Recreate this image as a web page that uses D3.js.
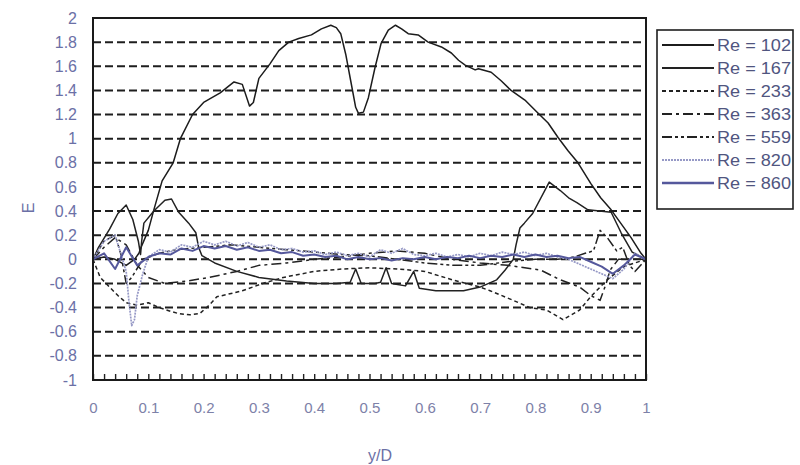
<!DOCTYPE html>
<html>
<head>
<meta charset="utf-8">
<script src="https://cdn.jsdelivr.net/npm/d3@7"></script>
<style>
  body { margin: 0; background: #fff; }
  svg { display: block; }
  text { font-family: "Liberation Sans", Arial, sans-serif; }
</style>
</head>
<body>
<svg id="chart" width="800" height="465"></svg>
<script>
// ---- tick values and labels ----
const xTicks = [0, 0.1, 0.2, 0.3, 0.4, 0.5, 0.6, 0.7, 0.8, 0.9, 1];
const xTickLabels = ["0", "0.1", "0.2", "0.3", "0.4", "0.5", "0.6", "0.7", "0.8", "0.9", "1"];
const yTicks = [2, 1.8, 1.6, 1.4, 1.2, 1, 0.8, 0.6, 0.4, 0.2, 0, -0.2, -0.4, -0.6, -0.8, -1];
const yTickLabels = ["2", "1.8", "1.6", "1.4", "1.2", "1", "0.8", "0.6", "0.4", "0.2", "0", "-0.2", "-0.4", "-0.6", "-0.8", "-1"];
const gridValues = [1.8, 1.6, 1.4, 1.2, 1, 0.8, 0.6, 0.4, 0.2, 0, -0.2, -0.4, -0.6, -0.8];

// ---- series: [y/D, E] ----
const seriesNames = ["Re = 102", "Re = 167", "Re = 233", "Re = 363", "Re = 559", "Re = 820", "Re = 860"];

const re102 = [[0,0],[0.02,0.02],[0.04,0.0],[0.06,-0.05],[0.075,0.0],[0.083,0.05],[0.087,0.1],[0.1,0.24],
  [0.11,0.41],[0.125,0.65],[0.145,0.8],[0.158,1.0],[0.18,1.2],[0.2,1.3],[0.23,1.38],[0.255,1.47],
  [0.27,1.45],[0.283,1.27],[0.29,1.3],[0.3,1.5],[0.32,1.62],[0.336,1.73],[0.354,1.8],[0.372,1.83],
  [0.395,1.86],[0.413,1.91],[0.43,1.94],[0.44,1.92],[0.448,1.87],[0.457,1.7],[0.466,1.48],[0.475,1.26],
  [0.48,1.21],[0.489,1.22],[0.498,1.34],[0.51,1.59],[0.521,1.79],[0.534,1.9],[0.547,1.94],[0.558,1.91],
  [0.57,1.87],[0.588,1.86],[0.606,1.8],[0.63,1.76],[0.648,1.71],[0.661,1.65],[0.673,1.61],[0.691,1.57],
  [0.697,1.58],[0.72,1.55],[0.738,1.48],[0.756,1.4],[0.781,1.32],[0.805,1.21],[0.823,1.13],[0.841,1.01],
  [0.859,0.9],[0.877,0.8],[0.9,0.63],[0.918,0.51],[0.937,0.41],[0.973,0.18],[0.991,0.05],[1,0]];

const re167 = [[0,0],[0.01,0.1],[0.03,0.25],[0.045,0.38],[0.06,0.45],[0.072,0.33],[0.082,0.15],[0.086,0.04],
  [0.088,0.15],[0.092,0.3],[0.11,0.4],[0.13,0.49],[0.142,0.5],[0.155,0.39],[0.173,0.3],[0.186,0.22],
  [0.191,0.1],[0.197,0.03],[0.22,-0.03],[0.26,-0.1],[0.3,-0.15],[0.35,-0.18],[0.4,-0.2],[0.44,-0.2],
  [0.465,-0.19],[0.475,-0.08],[0.485,-0.2],[0.51,-0.2],[0.52,-0.19],[0.53,-0.07],[0.54,-0.2],[0.565,-0.22],
  [0.58,-0.1],[0.59,-0.24],[0.62,-0.26],[0.67,-0.26],[0.7,-0.23],[0.73,-0.17],[0.745,-0.09],[0.76,0.0],
  [0.765,0.12],[0.772,0.26],[0.78,0.3],[0.795,0.38],[0.825,0.64],[0.845,0.57],[0.86,0.51],[0.875,0.47],
  [0.895,0.41],[0.937,0.39],[0.955,0.22],[0.975,0.06],[1,0]];

const re233 = [[0,0],[0.013,-0.15],[0.03,-0.23],[0.045,-0.3],[0.06,-0.36],[0.08,-0.38],[0.1,-0.36],
  [0.12,-0.4],[0.14,-0.43],[0.155,-0.45],[0.175,-0.46],[0.193,-0.45],[0.21,-0.38],[0.224,-0.31],
  [0.253,-0.28],[0.27,-0.26],[0.307,-0.2],[0.344,-0.15],[0.4,-0.1],[0.45,-0.08],[0.5,-0.07],[0.55,-0.08],
  [0.6,-0.1],[0.65,-0.17],[0.7,-0.23],[0.718,-0.26],[0.76,-0.34],[0.79,-0.4],[0.82,-0.42],[0.85,-0.5],
  [0.88,-0.42],[0.9,-0.31],[0.917,-0.23],[0.93,-0.17],[0.96,-0.06],[1,0]];

const re363 = [[0,0],[0.02,0.1],[0.04,0.18],[0.06,0.12],[0.08,-0.05],[0.1,-0.15],[0.13,-0.2],[0.17,-0.18],
  [0.21,-0.15],[0.26,-0.1],[0.3,-0.05],[0.35,-0.03],[0.4,0.0],[0.45,0.02],[0.5,0.05],[0.55,0.07],
  [0.6,0.05],[0.65,0.0],[0.7,-0.03],[0.75,-0.05],[0.81,-0.09],[0.845,-0.17],[0.88,-0.23],[0.9,-0.3],
  [0.917,-0.34],[0.928,-0.2],[0.935,-0.09],[0.95,0.0],[1,0]];

const re559 = [[0,0],[0.02,0.15],[0.04,0.2],[0.05,0.05],[0.06,-0.2],[0.07,-0.15],[0.09,0.0],[0.12,0.05],
  [0.15,0.08],[0.2,0.1],[0.25,0.12],[0.3,0.1],[0.35,0.08],[0.4,0.06],[0.45,0.04],[0.5,0.03],[0.55,0.0],
  [0.6,-0.03],[0.65,-0.05],[0.7,-0.05],[0.75,-0.02],[0.8,0.0],[0.84,0.0],[0.87,0.02],[0.89,0.05],
  [0.905,0.07],[0.917,0.24],[0.93,0.18],[0.947,0.07],[0.958,0.1],[0.97,-0.05],[0.98,-0.1],[1,0]];

const re820 = [[0,0],[0.02,0.15],[0.04,0.2],[0.05,0.05],[0.06,-0.1],[0.065,-0.35],[0.07,-0.55],[0.075,-0.5],
  [0.08,-0.3],[0.09,-0.12],[0.1,0.02],[0.12,0.08],[0.14,0.06],[0.16,0.12],[0.18,0.1],[0.2,0.15],[0.22,0.12],
  [0.24,0.15],[0.26,0.11],[0.28,0.14],[0.3,0.1],[0.32,0.12],[0.34,0.08],[0.36,0.09],[0.38,0.06],[0.4,0.07],
  [0.42,0.04],[0.44,0.06],[0.46,0.03],[0.48,0.05],[0.5,0.02],[0.52,0.08],[0.54,0.05],[0.56,0.09],[0.58,0.04],
  [0.6,0.03],[0.62,0.05],[0.64,0.02],[0.66,0.04],[0.68,0.02],[0.7,0.05],[0.72,0.03],[0.74,0.06],[0.76,0.04],
  [0.78,0.06],[0.8,0.03],[0.82,0.05],[0.84,0.02],[0.86,0.0],[0.88,-0.04],[0.9,-0.08],[0.92,-0.12],
  [0.94,-0.16],[0.96,-0.08],[0.98,0.05],[1,0]];

const re860 = [[0,0],[0.02,0.05],[0.04,-0.08],[0.06,0.1],[0.08,-0.05],[0.1,0.02],[0.12,0.05],[0.14,0.04],
  [0.16,0.09],[0.18,0.07],[0.2,0.11],[0.22,0.09],[0.24,0.11],[0.26,0.08],[0.28,0.1],[0.3,0.07],[0.32,0.08],
  [0.34,0.05],[0.36,0.06],[0.38,0.03],[0.4,0.04],[0.42,0.02],[0.44,0.03],[0.46,0.0],[0.48,0.02],[0.5,0.0],
  [0.52,0.01],[0.54,-0.01],[0.56,0.01],[0.58,0.0],[0.6,0.02],[0.62,0.0],[0.64,0.02],[0.66,0.01],[0.68,0.03],
  [0.7,0.01],[0.72,0.03],[0.74,0.02],[0.76,0.04],[0.78,0.02],[0.8,0.04],[0.82,0.02],[0.84,0.03],[0.86,0.01],
  [0.88,0.02],[0.9,-0.02],[0.92,-0.06],[0.94,-0.12],[0.96,-0.05],[0.98,0.04],[1,0]];

const seriesData = [re102, re167, re233, re363, re559, re820, re860];

// line styles for each series
const seriesStyle = [
  { stroke: "#1c1c1c", width: 1.5, dash: null },
  { stroke: "#222222", width: 1.5, dash: null },
  { stroke: "#222222", width: 1.5, dash: "4,3" },
  { stroke: "#222222", width: 1.5, dash: "10,4,3,4" },
  { stroke: "#222222", width: 1.5, dash: "10,3,3,3,3,3" },
  { stroke: "#9699c6", width: 1.7, dash: "2,1" },
  { stroke: "#55589c", width: 2, dash: null }
];

// ---- layout ----
const svg = d3.select("#chart");
const plot = { left: 93, right: 646, top: 18, bottom: 380 };

const x = d3.scaleLinear().domain([0, 1]).range([plot.left, plot.right]);
const y = d3.scaleLinear().domain([-1, 2]).range([plot.bottom, plot.top]);

const labelColor = "#6b70a6";

// horizontal dashed gridlines
svg.append("g").selectAll("line").data(gridValues).join("line")
  .attr("x1", plot.left).attr("x2", plot.right)
  .attr("y1", d => y(d)).attr("y2", d => y(d))
  .attr("stroke", "#1e1e1e").attr("stroke-width", 2)
  .attr("stroke-dasharray", "8,4");

// y axis labels
const yAxis = svg.append("g").attr("transform", `translate(${plot.left},0)`)
  .call(d3.axisLeft(y).tickValues(yTicks).tickFormat((d, i) => yTickLabels[i]).tickSize(0).tickPadding(16));
yAxis.select(".domain").remove();
yAxis.selectAll("text").attr("font-size", 16).attr("fill", labelColor)
  .attr("font-family", "'Liberation Sans', Arial, sans-serif");

// x axis minor ticks (inside, every 0.02)
const minorTicks = d3.range(0, 50.5, 1).map(i => i / 50);
const xMinor = svg.append("g").attr("transform", `translate(0,${plot.bottom})`)
  .call(d3.axisBottom(x).tickValues(minorTicks).tickFormat("").tickSizeInner(-6).tickSizeOuter(0));
xMinor.select(".domain").remove();
xMinor.selectAll("line").attr("stroke", "#222").attr("stroke-width", 1.4);

// x axis labels
const xAxis = svg.append("g").attr("transform", `translate(0,${plot.bottom})`)
  .call(d3.axisBottom(x).tickValues(xTicks).tickFormat((d, i) => xTickLabels[i]).tickSize(0).tickPadding(22));
xAxis.select(".domain").remove();
xAxis.selectAll("text").attr("font-size", 15).attr("fill", "#7d81a8")
  .attr("font-family", "'Liberation Sans', Arial, sans-serif");

// clip for series
svg.append("clipPath").attr("id", "plotClip").append("rect")
  .attr("x", plot.left).attr("y", plot.top)
  .attr("width", plot.right - plot.left).attr("height", plot.bottom - plot.top);

const line = d3.line().x(d => x(d[0])).y(d => y(d[1]));

svg.append("g").attr("clip-path", "url(#plotClip)")
  .selectAll("path").data(seriesData).join("path")
  .attr("d", line)
  .attr("fill", "none")
  .attr("stroke", (d, i) => seriesStyle[i].stroke)
  .attr("stroke-width", (d, i) => seriesStyle[i].width)
  .attr("stroke-dasharray", (d, i) => seriesStyle[i].dash)
  .attr("stroke-linejoin", "round");

// plot frame
svg.append("rect")
  .attr("x", plot.left).attr("y", plot.top)
  .attr("width", plot.right - plot.left).attr("height", plot.bottom - plot.top)
  .attr("fill", "none").attr("stroke", "#1a1a1a").attr("stroke-width", 2);

// axis titles
svg.append("text")
  .attr("transform", "translate(34,208) rotate(-90)")
  .attr("text-anchor", "middle").attr("font-size", 16).attr("fill", labelColor)
  .text("E");
svg.append("text")
  .attr("x", 380).attr("y", 461)
  .attr("text-anchor", "middle").attr("font-size", 16).attr("fill", labelColor)
  .text("y/D");

// legend
const legend = svg.append("g");
legend.append("rect")
  .attr("x", 657).attr("y", 30).attr("width", 136).attr("height", 179)
  .attr("fill", "#fff").attr("stroke", "#1e1e1e").attr("stroke-width", 1.6);

const legendRows = legend.selectAll("g.row").data(seriesNames).join("g")
  .attr("class", "row")
  .attr("transform", (d, i) => `translate(0,${45 + i * 23})`);

legendRows.append("line")
  .attr("x1", 662).attr("x2", 714).attr("y1", 0).attr("y2", 0)
  .attr("stroke", (d, i) => seriesStyle[i].stroke)
  .attr("stroke-width", (d, i) => seriesStyle[i].width + 0.3)
  .attr("stroke-dasharray", (d, i) => seriesStyle[i].dash);

legendRows.append("text")
  .attr("x", 717).attr("y", 6)
  .attr("font-size", 16).attr("fill", "#50557f")
  .attr("textLength", 74).attr("lengthAdjust", "spacingAndGlyphs")
  .text(d => d);
</script>
</body>
</html>
